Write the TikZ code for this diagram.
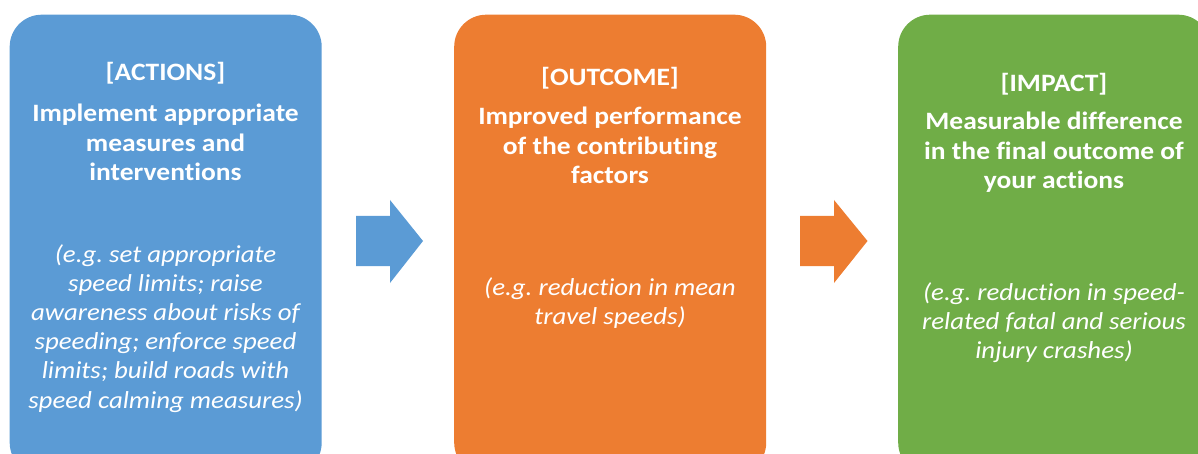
\documentclass[tikz,border=0pt]{standalone}
\usepackage{fontspec}
\setmainfont{Carlito}[FakeStretch=1.1, Ligatures={NoCommon}]
\frenchspacing
\definecolor{cblue}{HTML}{5B9BD5}
\definecolor{corange}{HTML}{ED7D31}
\definecolor{cgreen}{HTML}{70AD47}
\newcommand{\lines}[1]{\begin{tabular}[t]{@{}c@{}}#1\end{tabular}}
\tikzset{
  box/.style={fill=#1, draw=none, rounded corners=32pt, minimum width=312pt, minimum height=460pt, anchor=north west, inner sep=0pt},
  ttl/.style={text=white, anchor=base, inner sep=0pt, font=\fontsize{25}{29.4}\selectfont\bfseries},
  bld/.style={text=white, anchor=base, inner sep=0pt, font=\fontsize{25}{29.4}\selectfont\bfseries},
  itl/.style={text=white, anchor=base, inner sep=0pt, font=\fontsize{24.4}{29.2}\selectfont\itshape}
}
\begin{document}
\begin{tikzpicture}[x=1pt,y=-1pt]
\useasboundingbox (0,0) rectangle (1198,454);
\clip (0,0) rectangle (1198,454);
\node[box=cblue] (b1) at (9.5,14.5) {};
\node[box=corange] (b2) at (454,14.5) {};
\node[box=cgreen] (b3) at (898,14.5) {};
% arrows
\coordinate (a1) at (356,241);
\coordinate (a2) at (800,241);
\fill[cblue] (a1) ++(0,-25) -- ++(34,0) -- ++(0,-16) -- ++(33,41) -- ++(-33,42) -- ++(0,-17) -- ++(-34,0) -- cycle;
\fill[corange] (a2) ++(0,-25) -- ++(34,0) -- ++(0,-16) -- ++(33.5,41) -- ++(-33.5,42) -- ++(0,-17) -- ++(-34,0) -- cycle;
% texts
\node[ttl] (t1) at (165.5,81) {[ACTIONS]};
\node[bld] (h1) at (165.5,122) {\lines{Implement appropriate\\measures and\\interventions}};
\node[itl] (e1) at (165.5,262) {\lines{(e.g. set appropriate\\speed limits; raise\\awareness about risks of\\speeding; enforce speed\\limits; build roads with\\speed calming measures)}};
\node[ttl] (t2) at (610,86) {[OUTCOME]};
\node[bld] (h2) at (610,125) {\lines{Improved performance\\of the contributing\\factors}};
\node[itl] (e2) at (610,295) {\lines{(e.g. reduction in mean\\travel speeds)}};
\node[ttl] (t3) at (1054,92) {[IMPACT]};
\node[bld] (h3) at (1054,130) {\lines{Measurable difference\\in the final outcome of\\your actions}};
\node[itl] (e3) at (1054,300) {\lines{(e.g. reduction in speed-\\related fatal and serious\\injury crashes)}};
\end{tikzpicture}
\end{document}
